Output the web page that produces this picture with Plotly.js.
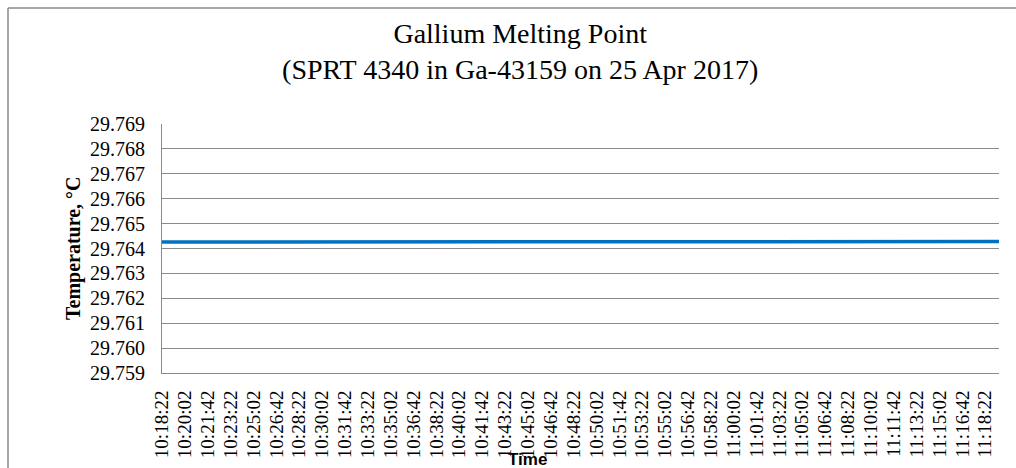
<!DOCTYPE html>
<html>
<head>
<meta charset="utf-8">
<script src="https://cdn.plot.ly/plotly-3.0.1.min.js"></script>
<style>html,body{margin:0;padding:0;background:#fff;}#chart{width:1016px;height:468px;}</style>
</head>
<body>
<div id="chart"></div>
<script>
var times = [
"10:18:22","10:18:42",
"10:19:02","10:19:22","10:19:42","10:20:02","10:20:22","10:20:42","10:21:02","10:21:22","10:21:42",
"10:22:02","10:22:22","10:22:42","10:23:02","10:23:22","10:23:42","10:24:02","10:24:22","10:24:42",
"10:25:02","10:25:22","10:25:42","10:26:02","10:26:22","10:26:42","10:27:02","10:27:22","10:27:42",
"10:28:02","10:28:22","10:28:42","10:29:02","10:29:22","10:29:42","10:30:02","10:30:22","10:30:42",
"10:31:02","10:31:22","10:31:42","10:32:02","10:32:22","10:32:42","10:33:02","10:33:22","10:33:42",
"10:34:02","10:34:22","10:34:42","10:35:02","10:35:22","10:35:42","10:36:02","10:36:22","10:36:42",
"10:37:02","10:37:22","10:37:42","10:38:02","10:38:22","10:38:42","10:39:02","10:39:22","10:39:42",
"10:40:02","10:40:22","10:40:42","10:41:02","10:41:22","10:41:42","10:42:02","10:42:22","10:42:42",
"10:43:02","10:43:22","10:43:42","10:44:02","10:44:22","10:44:42","10:45:02","10:45:22","10:45:42",
"10:46:02","10:46:22","10:46:42","10:47:02","10:47:22","10:47:42","10:48:02","10:48:22","10:48:42",
"10:49:02","10:49:22","10:49:42","10:50:02","10:50:22","10:50:42","10:51:02","10:51:22","10:51:42",
"10:52:02","10:52:22","10:52:42","10:53:02","10:53:22","10:53:42","10:54:02","10:54:22","10:54:42",
"10:55:02","10:55:22","10:55:42","10:56:02","10:56:22","10:56:42","10:57:02","10:57:22","10:57:42",
"10:58:02","10:58:22","10:58:42","10:59:02","10:59:22","10:59:42","11:00:02","11:00:22","11:00:42",
"11:01:02","11:01:22","11:01:42","11:02:02","11:02:22","11:02:42","11:03:02","11:03:22","11:03:42",
"11:04:02","11:04:22","11:04:42","11:05:02","11:05:22","11:05:42","11:06:02","11:06:22","11:06:42",
"11:07:02","11:07:22","11:07:42","11:08:02","11:08:22","11:08:42","11:09:02","11:09:22","11:09:42",
"11:10:02","11:10:22","11:10:42","11:11:02","11:11:22","11:11:42","11:12:02","11:12:22","11:12:42",
"11:13:02","11:13:22","11:13:42","11:14:02","11:14:22","11:14:42","11:15:02","11:15:22","11:15:42",
"11:16:02","11:16:22","11:16:42","11:17:02","11:17:22","11:17:42","11:18:02","11:18:22","11:18:42",
"11:19:02","11:19:22"
];

var temperature = [
29.76426,29.76426,29.76426,29.76426,29.76426,29.76426,29.76426,29.76427,29.76429,29.76427,
29.76426,29.76426,29.76426,29.76426,29.76426,29.76426,29.76426,29.76426,29.76426,29.76426,
29.76426,29.76426,29.76426,29.76426,29.76426,29.76426,29.76426,29.76426,29.76427,29.76429,
29.76427,29.76426,29.76426,29.76426,29.76426,29.76426,29.76426,29.76428,29.76427,29.76426,
29.76426,29.76426,29.76426,29.76426,29.76426,29.76426,29.76426,29.76426,29.76426,29.76427,
29.76429,29.76427,29.76426,29.76426,29.76426,29.76426,29.76426,29.76427,29.76429,29.76427,
29.76426,29.76426,29.76426,29.76426,29.76426,29.76426,29.76426,29.76426,29.76426,29.76426,
29.76426,29.76427,29.76429,29.76427,29.76426,29.76426,29.76426,29.76427,29.76429,29.76427,
29.76426,29.76426,29.76426,29.76427,29.76429,29.76427,29.76426,29.76426,29.76426,29.76426,
29.76426,29.76426,29.76426,29.76426,29.76426,29.76426,29.76426,29.76426,29.76426,29.76426,
29.76426,29.76426,29.76426,29.76426,29.76426,29.76426,29.76427,29.76429,29.76427,29.76426,
29.76426,29.76426,29.76426,29.76427,29.76429,29.76427,29.76426,29.76426,29.76426,29.76426,
29.76426,29.76426,29.76426,29.76426,29.76426,29.76426,29.76426,29.76426,29.76426,29.76427,
29.76429,29.76427,29.76426,29.76426,29.76426,29.76426,29.76426,29.76427,29.76429,29.76427,
29.76426,29.76426,29.76426,29.76426,29.76426,29.76426,29.76426,29.76426,29.76426,29.76426,
29.76426,29.76426,29.76427,29.76429,29.76427,29.76426,29.76426,29.76426,29.76426,29.76426,
29.76426,29.76426,29.76426,29.76426,29.76426,29.76427,29.76429,29.76427,29.76426,29.76426,
29.76426,29.76426,29.76426,29.76426,29.76426,29.76426,29.76426,29.76426,29.76426,29.76426,
29.76426,29.76427,29.76428,29.76428
];

var tickLabels = [
"10:18:22","10:20:02","10:21:42","10:23:22","10:25:02","10:26:42","10:28:22","10:30:02",
"10:31:42","10:33:22","10:35:02","10:36:42","10:38:22","10:40:02","10:41:42","10:43:22",
"10:45:02","10:46:42","10:48:22","10:50:02","10:51:42","10:53:22","10:55:02","10:56:42",
"10:58:22","11:00:02","11:01:42","11:03:22","11:05:02","11:06:42","11:08:22","11:10:02",
"11:11:42","11:13:22","11:15:02","11:16:42","11:18:22"
];

var chartTitle = "Gallium Melting Point<br>(SPRT 4340 in Ga-43159 on 25 Apr 2017)";
var yTitle = "Temperature, °C";
var xTitle = "Time";

var serif = "'Liberation Serif', 'Times New Roman', serif";
var grey = "#8a8a8a";

var trace = {
  x: times,
  y: temperature,
  type: "scatter",
  mode: "lines",
  line: {color: "#0070C0", width: 3.5},
  hoverinfo: "x+y"
};

var layout = {
  width: 1016,
  height: 468,
  margin: {l: 162, r: 17, t: 124, b: 95, pad: 0},
  paper_bgcolor: "#ffffff",
  plot_bgcolor: "#ffffff",
  showlegend: false,
  title: {
    text: chartTitle,
    font: {family: serif, size: 28, color: "#000"},
    x: 0.512, xanchor: "center", xref: "container",
    y: 1 - 43/468, yanchor: "top", yref: "container"
  },
  xaxis: {
    type: "category",
    range: [0, times.length - 1],
    tickmode: "array",
    tickvals: tickLabels,
    ticktext: tickLabels,
    tickangle: -90,
    tickfont: {family: serif, size: 19, color: "#000"},
    ticks: "",
    ticklabelstandoff: 9,
    showgrid: false,
    showline: true,
    linecolor: grey,
    linewidth: 1,
    zeroline: false,
    fixedrange: true
  },
  yaxis: {
    range: [29.759, 29.769],
    tickmode: "linear",
    tick0: 29.759,
    dtick: 0.001,
    tickformat: ".3f",
    tickfont: {family: serif, size: 20, color: "#000"},
    ticks: "",
    ticklabelstandoff: 12,
    showgrid: true,
    gridcolor: grey,
    gridwidth: 1,
    showline: true,
    linecolor: grey,
    linewidth: 1,
    zeroline: false,
    fixedrange: true
  },
  annotations: [
    {
      text: "<b>" + yTitle + "</b>",
      xref: "paper", yref: "paper",
      x: (73 - 162) / 837, y: (373 - 248) / 249,
      xanchor: "center", yanchor: "middle",
      textangle: -90, showarrow: false,
      font: {family: serif, size: 20, color: "#000"}
    },
    {
      text: "<b>" + xTitle + "</b>",
      xref: "paper", yref: "paper",
      x: (527 - 162) / 837, y: (373 - 459) / 249,
      xanchor: "center", yanchor: "middle",
      showarrow: false,
      font: {family: "'Liberation Sans', Arial, sans-serif", size: 17, color: "#000"}
    }
  ],
  shapes: [
    {type: "line", xref: "paper", yref: "paper",
     x0: (8 - 162) / 837, x1: (8 - 162) / 837, y0: -0.6, y1: (373 - 8) / 249,
     line: {color: grey, width: 1.5}},
    {type: "line", xref: "paper", yref: "paper",
     x0: (8 - 162) / 837, x1: 1.1, y0: (373 - 8) / 249, y1: (373 - 8) / 249,
     line: {color: grey, width: 1.5}}
  ]
};

Plotly.newPlot("chart", [trace], layout, {staticPlot: true, displayModeBar: false});
</script>
</body>
</html>
